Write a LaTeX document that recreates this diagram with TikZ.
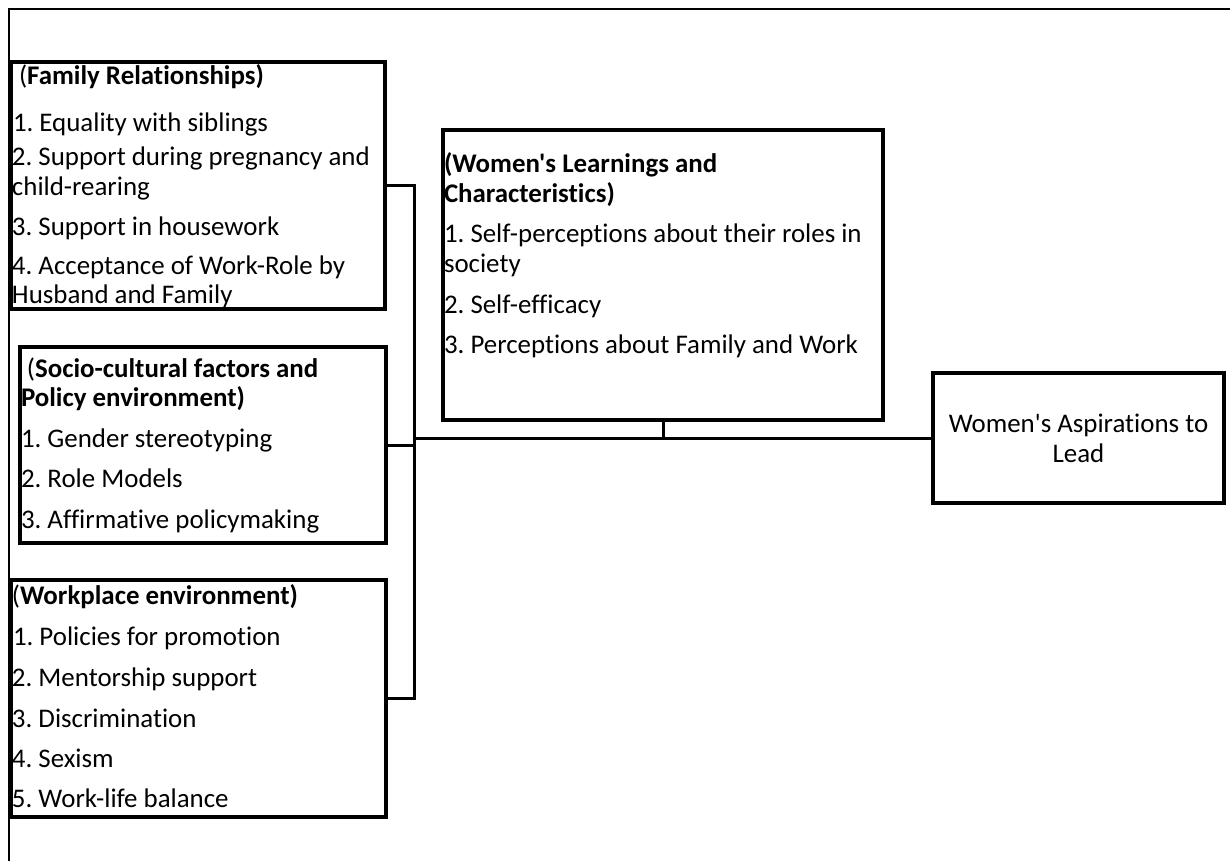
\documentclass[tikz,border=0pt]{standalone}
\usepackage{fontspec}
\newfontfamily\carl{Carlito}[Ligatures=NoCommon]
\newcommand{\diagfs}{\carl\fontsize{26.9}{30}\selectfont\frenchspacing}
\begin{document}
\begin{tikzpicture}[x=1pt,y=-1pt,
  box/.style={draw, line width=4pt, inner sep=0pt, outer sep=0pt},
  conn/.style={draw, line width=3pt},
  frame/.style={draw, line width=2.5pt},
  txt/.style={anchor=base west, inner sep=0pt, outer sep=0pt, font=\diagfs}]
\useasboundingbox (0,0) rectangle (1230,861);
\draw[frame] (1232,9) -- (9,9) -- (9,863);

% boxes
\node[box, minimum width=374pt, minimum height=247pt] (fam) at (198,185.5) {};
\node[box, minimum width=366pt, minimum height=196pt] (soc) at (203,445) {};
\node[box, minimum width=375pt, minimum height=237pt] (work) at (198.5,698.5) {};
\node[box, minimum width=440pt, minimum height=290pt] (learn) at (663,275) {};
\node[box, minimum width=291pt, minimum height=130pt, align=center, font=\diagfs] (asp) at (1078.5,438) {Women's Aspirations to\\Lead};

% family text
\node[txt] (f0) at (19,85) {(\textbf{Family Relationships)}};
\node[txt] (f1) at (13,132) {1. Equality with siblings};
\node[txt] (f2) at (12,165) {2. Support during pregnancy and};
\node[txt] (f3) at (12,195) {child-rearing};
\node[txt] (f4) at (12,235) {3. Support in housework};
\node[txt] (f5) at (12,274) {4. Acceptance of Work-Role by};
\node[txt] (f6) at (12,303) {Husband and Family};

% socio-cultural text
\node[txt] (s0) at (27,377) {(\textbf{Socio-cultural factors and}};
\node[txt] (s1) at (21,406) {\textbf{Policy environment)}};
\node[txt] (s2) at (21,447) {1. Gender stereotyping};
\node[txt] (s3) at (21,487) {2. Role Models};
\node[txt] (s4) at (21,528) {3. Affirmative policymaking};

% workplace text
\node[txt] (w0) at (12,604) {(\textbf{Workplace environment)}};
\node[txt] (w1) at (13,645) {1. Policies for promotion};
\node[txt] (w2) at (12,686) {2. Mentorship support};
\node[txt] (w3) at (12,727) {3. Discrimination};
\node[txt] (w4) at (12,767) {4. Sexism};
\node[txt] (w5) at (12,807) {5. Work-life balance};

% learnings text
\node[txt] (l0) at (444,172) {\textbf{(Women's Learnings and}};
\node[txt] (l1) at (444,202) {\textbf{Characteristics)}};
\node[txt] (l2) at (444,242) {1. Self-perceptions about their roles in};
\node[txt] (l3) at (444,272) {society};
\node[txt] (l4) at (444,313) {2. Self-efficacy};
\node[txt] (l5) at (444,353) {3. Perceptions about Family and Work};

% connectors
\coordinate (busx) at (414,0);
\draw[conn] (fam.east) -- (fam.east -| busx) |- (work.east);
\draw[conn] (soc.east) -- (soc.east -| busx);
\draw[conn] (asp.west -| busx) -- (asp.west);
\draw[conn] (learn.south) -- (learn.south |- asp.west);
\end{tikzpicture}
\end{document}
